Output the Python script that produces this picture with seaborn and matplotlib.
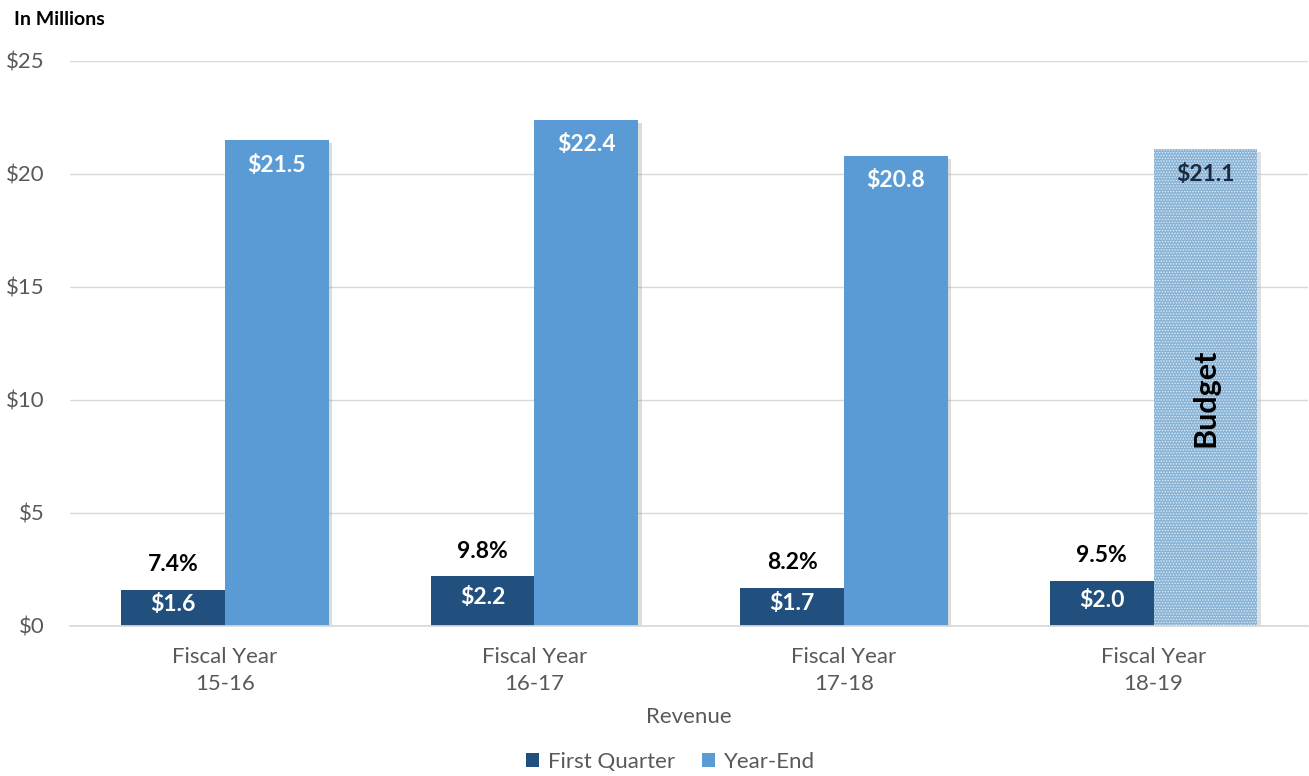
import matplotlib
matplotlib.use("Agg")
import matplotlib.pyplot as plt
import matplotlib.patheffects as pe
from matplotlib.patches import Patch
import seaborn as sns
import pandas as pd

# Revenue by fiscal year, in millions of dollars
fiscal_years = ["Fiscal Year\n15-16", "Fiscal Year\n16-17", "Fiscal Year\n17-18", "Fiscal Year\n18-19"]
first_quarter = [1.6, 2.2, 1.7, 2.0]
year_end = [21.5, 22.4, 20.8, 21.1]
first_quarter_share = [7.4, 9.8, 8.2, 9.5]
series_names = ["First Quarter", "Year-End"]
y_ticks = [0, 5, 10, 15, 20, 25]

dark_blue = "#22507e"
mid_blue = "#5b9bd5"
budget_blue = "#8ab4d6"
gray_text = "#595959"

df = pd.DataFrame({
    "year": fiscal_years * 2,
    "series": [series_names[0]] * 4 + [series_names[1]] * 4,
    "value": first_quarter + year_end,
})

sns.set_theme(style="white")
plt.rcParams["font.family"] = ["Lato", "DejaVu Sans"]
plt.rcParams["hatch.linewidth"] = 0.6

fig = plt.figure(figsize=(13.09, 7.76), dpi=100)
ax = fig.add_axes([0.0535, 0.1933, 0.946, 0.7281])

sns.barplot(data=df, x="year", y="value", hue="series", hue_order=series_names,
            palette=[dark_blue, mid_blue], width=0.67, gap=0, saturation=1,
            edgecolor="none", linewidth=0, legend=False, ax=ax)

shadow = [pe.SimplePatchShadow(offset=(2.5, -2), shadow_rgbFace="#777777", alpha=0.25), pe.Normal()]
fq_bars = ax.containers[0]
ye_bars = ax.containers[1]
for bar in list(fq_bars) + list(ye_bars):
    bar.set_path_effects(shadow)

# The last year-end value is a budget figure: dotted fill
budget_bar = ye_bars[3]
budget_bar.set_facecolor(budget_blue)
budget_bar.set_hatch("......")
budget_bar.set_edgecolor("#e4eef6")
budget_bar.set_linewidth(0)

label_size = 16.5

# Value labels
for i, bar in enumerate(fq_bars):
    cx = bar.get_x() + bar.get_width() / 2
    v = first_quarter[i]
    ax.text(cx, v / 2 + 0.15, f"${v:.1f}", ha="center", va="center",
            color="white", fontsize=label_size, fontweight="bold")
    ax.text(cx, v + 1.1, f"{first_quarter_share[i]:.1f}%", ha="center", va="center",
            color="black", fontsize=label_size, fontweight="bold")

for i, bar in enumerate(ye_bars):
    cx = bar.get_x() + bar.get_width() / 2
    v = year_end[i]
    ax.annotate(f"${v:.1f}", xy=(cx, v), xytext=(0, -18), textcoords="offset points",
                ha="center", va="center", fontsize=label_size, fontweight="bold",
                color="#1b2a3f" if i == 3 else "white")

bx = budget_bar.get_x() + budget_bar.get_width() / 2
ax.text(bx, 10.1, "Budget", rotation=90, ha="center", va="center",
        fontsize=22, fontweight="bold", color="black")

# Axes styling
ax.set_ylim(0, 25)
ax.set_xlim(-0.5, 3.5)
ax.set_yticks(y_ticks)
ax.set_yticklabels([f"${t}" for t in y_ticks])
ax.yaxis.grid(True, color="#d9d9d9", linewidth=1)
ax.set_axisbelow(True)
for s in ["top", "right", "left"]:
    ax.spines[s].set_visible(False)
ax.spines["bottom"].set_color("#d9d9d9")
ax.tick_params(axis="both", length=0, labelsize=16, labelcolor=gray_text)
ax.tick_params(axis="y", pad=18)
ax.tick_params(axis="x", pad=15)
for lbl in ax.get_xticklabels():
    lbl.set_linespacing(1.45)
ax.set_ylabel("")
ax.set_xlabel("Revenue", fontsize=16, color=gray_text, labelpad=9)

fig.text(0.011, 0.975, "In Millions", fontsize=14, fontweight="bold", color="black",
         ha="left", va="center")

handles = [Patch(facecolor=dark_blue, edgecolor="none"), Patch(facecolor=mid_blue, edgecolor="none")]
fig.legend(handles, series_names, loc="center", bbox_to_anchor=(0.512, 0.018), ncol=2,
           frameon=False, fontsize=16, labelcolor=gray_text, handlelength=0.6,
           handleheight=0.6, handletextpad=0.4, columnspacing=1.2)

fig.savefig("out.png", dpi=100)
